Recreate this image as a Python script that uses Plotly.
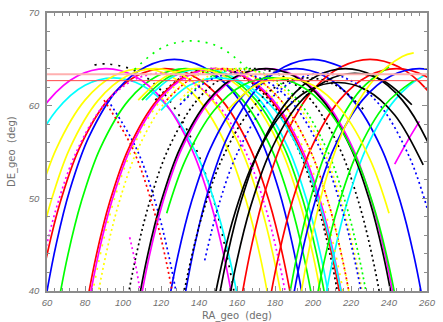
import plotly.graph_objects as go

# ---- track data (RA_geo, DE_geo in degrees) ----
red_ra = [
    [48, 54, 60, 67, 77, 92, 107, 122, 137, 152, 167, 177, 184, 190, 196],
    [74, 80, 86, 93, 103, 118, 133, 148, 163, 178, 193, 203, 210, 216, 222],
    [123, 138, 153, 168, 183, 198, 208, 215, 221, 227],
    [156, 162, 168, 175, 185, 200, 215, 230, 245, 260, 275, 285, 292, 298, 304],
    [170, 176, 182, 189, 199, 214, 229, 244, 259, 274, 289, 299, 306, 312, 318],
    [90, 105, 115, 122, 128, 134],
]
red_de = [
    [29.5, 37.5, 43.9, 49.6, 55.4, 60.6, 63.2, 64.0, 63.2, 60.6, 55.4, 49.6, 43.9, 37.5, 29.5],
    [29.5, 37.5, 43.9, 49.6, 55.4, 60.6, 63.2, 64.0, 63.2, 60.6, 55.4, 49.6, 43.9, 37.5, 29.5],
    [60.6, 63.2, 64.0, 63.2, 60.6, 55.4, 49.6, 43.9, 37.5, 29.5],
    [30.6, 38.8, 45.2, 50.9, 56.6, 61.7, 64.2, 65.0, 64.2, 61.7, 56.6, 50.9, 45.2, 38.8, 30.6],
    [29.5, 37.5, 43.9, 49.6, 55.4, 60.6, 63.2, 64.0, 63.2, 60.6, 55.4, 49.6, 43.9, 37.5, 29.5],
    [60.6, 55.4, 49.6, 43.9, 37.5, 29.5],
]
green_ra = [
    [59, 65, 71, 78, 88, 103, 118, 133, 148, 163, 178, 188, 195, 201, 207],
    [106, 121, 136, 151, 166],
    [110, 125, 140, 155, 170, 185, 195, 202, 208, 214],
    [132, 147, 162, 177, 192, 207, 217, 224, 230, 236],
    [181, 187, 193, 200, 210, 225, 240],
    [194, 200, 206, 213, 223, 238, 253],
    [123, 133, 148, 163, 178, 193, 208, 223, 233, 240, 246, 252],
]
green_de = [
    [29.5, 37.5, 43.9, 49.6, 55.4, 60.6, 63.2, 64.0, 63.2, 60.6, 55.4, 49.6, 43.9, 37.5, 29.5],
    [63.9, 66.3, 67.0, 66.3, 63.9],
    [60.6, 63.2, 64.0, 63.2, 60.6, 55.4, 49.6, 43.9, 37.5, 29.5],
    [60.6, 63.2, 64.0, 63.2, 60.6, 55.4, 49.6, 43.9, 37.5, 29.5],
    [30.6, 38.8, 45.2, 50.9, 56.6, 61.7, 64.2],
    [28.9, 36.9, 43.3, 49.0, 54.8, 60.1, 62.7],
    [48.4, 54.2, 59.5, 62.2, 63.0, 62.2, 59.5, 54.2, 48.4, 42.7, 36.3, 28.4],
]
blue_ra = [
    [92, 107, 117, 124, 130, 136],
    [53, 59, 65, 72, 82, 97, 112, 127, 142, 157, 172, 182, 189, 195, 201],
    [117, 123, 129, 136, 146, 161, 176, 191, 206, 221, 236, 246, 253, 259, 265],
    [126, 132, 138, 145, 155, 170, 185, 200, 215],
    [143, 150, 160, 175, 190, 205, 220, 235, 250, 260, 267, 273, 279],
    [182, 188, 194, 201, 211, 226, 241, 256, 271, 286, 301, 311, 318, 324, 330],
    [130, 145, 160, 175, 190, 205, 215, 222, 228, 234],
]
blue_de = [
    [60.6, 55.4, 49.6, 43.9, 37.5, 29.5],
    [30.6, 38.8, 45.2, 50.9, 56.6, 61.7, 64.2, 65.0, 64.2, 61.7, 56.6, 50.9, 45.2, 38.8, 30.6],
    [29.5, 37.5, 43.9, 49.6, 55.4, 60.6, 63.2, 64.0, 63.2, 60.6, 55.4, 49.6, 43.9, 37.5, 29.5],
    [30.6, 38.8, 45.2, 50.9, 56.6, 61.7, 64.2, 65.0, 64.2],
    [43.3, 49.0, 54.8, 60.1, 62.7, 63.5, 62.7, 60.1, 54.8, 49.0, 43.3, 36.9, 28.9],
    [29.5, 37.5, 43.9, 49.6, 55.4, 60.6, 63.2, 64.0, 63.2, 60.6, 55.4, 49.6, 43.9, 37.5, 29.5],
    [60.1, 62.7, 63.5, 62.7, 60.1, 54.8, 49.0, 43.3, 36.9, 28.9],
]
cyan_ra = [
    [21, 27, 33, 40, 50, 65, 80, 95, 110, 125, 140, 150, 157, 163, 169],
    [112, 127, 142, 157, 172, 187, 197, 204, 210, 216],
    [199, 205, 211, 218, 228, 243, 258, 273, 288, 303, 318, 328, 335, 341, 347],
    [120, 135, 150, 165, 180, 195, 205, 212, 218, 224],
]
cyan_de = [
    [28.4, 36.3, 42.7, 48.4, 54.2, 59.5, 62.2, 63.0, 62.2, 59.5, 54.2, 48.4, 42.7, 36.3, 28.4],
    [60.6, 63.2, 64.0, 63.2, 60.6, 55.4, 49.6, 43.9, 37.5, 29.5],
    [29.5, 37.5, 43.9, 49.6, 55.4, 60.6, 63.2, 64.0, 63.2, 60.6, 55.4, 49.6, 43.9, 37.5, 29.5],
    [59.5, 62.2, 63.0, 62.2, 59.5, 54.2, 48.4, 42.7, 36.3, 28.4],
]
magenta_ra = [
    [17, 23, 29, 36, 46, 61, 76, 91, 106, 121, 136, 146, 153, 159, 165],
    [75, 81, 87, 94, 104, 119, 134, 149, 164, 179, 194, 204, 211, 217, 223],
    [102, 108, 114, 121, 131, 146, 161, 176, 191, 206, 221, 231, 238, 244, 250],
    [243, 249.5, 256],
    [103.5, 106, 109],
    [46, 52, 58, 65, 75, 90, 105, 120, 135, 150, 165, 175, 182, 188, 194],
]
magenta_de = [
    [29.5, 37.5, 43.9, 49.6, 55.4, 60.6, 63.2, 64.0, 63.2, 60.6, 55.4, 49.6, 43.9, 37.5, 29.5],
    [29.5, 37.5, 43.9, 49.6, 55.4, 60.6, 63.2, 64.0, 63.2, 60.6, 55.4, 49.6, 43.9, 37.5, 29.5],
    [29.5, 37.5, 43.9, 49.6, 55.4, 60.6, 63.2, 64.0, 63.2, 60.6, 55.4, 49.6, 43.9, 37.5, 29.5],
    [53.7, 56.1, 58.3],
    [45.8, 43.5, 40.0],
    [28.9, 36.9, 43.3, 49.0, 54.8, 60.1, 62.7, 63.5, 62.7, 60.1, 54.8, 49.0, 43.3, 36.9, 28.9],
]
yellow_ra = [
    [36, 42, 48, 55, 65, 80, 95, 110, 125, 140, 155, 165, 172, 178, 184],
    [43, 49, 55, 62, 72, 87, 102, 117, 132, 147, 162, 172, 179, 185, 191],
    [108, 123, 138, 153, 168, 183, 193, 200, 206, 212],
    [76, 82, 88, 95, 105, 120, 135, 150, 165, 180, 195, 205, 212, 218, 224],
    [79, 85, 91, 98, 108, 123, 138, 153, 168, 183, 198, 208, 215, 221, 227],
    [130, 145, 160, 175, 190, 205, 215, 222, 228, 234],
    [188, 194, 200, 207, 217, 232, 247, 253],
    [155, 170, 185, 200, 215, 230, 240],
]
yellow_de = [
    [29.5, 37.5, 43.9, 49.6, 55.4, 60.6, 63.2, 64.0, 63.2, 60.6, 55.4, 49.6, 43.9, 37.5, 29.5],
    [29.5, 37.5, 43.9, 49.6, 55.4, 60.6, 63.2, 64.0, 63.2, 60.6, 55.4, 49.6, 43.9, 37.5, 29.5],
    [60.6, 63.2, 64.0, 63.2, 60.6, 55.4, 49.6, 43.9, 37.5, 29.5],
    [29.5, 37.5, 43.9, 49.6, 55.4, 60.6, 63.2, 64.0, 63.2, 60.6, 55.4, 49.6, 43.9, 37.5, 29.5],
    [29.5, 37.5, 43.9, 49.6, 55.4, 60.6, 63.2, 64.0, 63.2, 60.6, 55.4, 49.6, 43.9, 37.5, 29.5],
    [60.6, 63.2, 64.0, 63.2, 60.6, 55.4, 49.6, 43.9, 37.5, 29.5],
    [31.8, 40.1, 46.5, 52.2, 57.8, 62.8, 65.3, 65.7],
    [59.5, 62.2, 63.0, 62.2, 59.5, 54.2, 48.4],
]
black_ra = [
    [85, 92, 107, 122, 137, 147, 154, 160, 166],
    [117, 132, 147, 162, 177, 192, 202, 209, 215, 221],
    [95, 101, 107, 114, 124, 139, 154, 169, 184, 199, 214, 224, 231, 237, 243],
    [101, 107, 113, 120, 130, 145, 160, 175, 190, 205, 220, 230, 237, 243, 249],
    [143, 149, 155, 162, 172, 187, 202, 217, 232, 247, 262, 272, 279, 285, 291],
    [139, 145, 151, 158, 168, 183, 198, 213, 228, 243, 258],
    [148, 154, 160, 167, 177, 192, 207, 222, 237, 252],
    [123, 129, 135, 142, 152, 167, 182, 197, 212, 227],
]
black_de = [
    [64.4, 64.5, 63.7, 61.2, 56.0, 50.3, 44.5, 38.1, 30.0],
    [60.6, 63.2, 64.0, 63.2, 60.6, 55.4, 49.6, 43.9, 37.5, 29.5],
    [29.5, 37.5, 43.9, 49.6, 55.4, 60.6, 63.2, 64.0, 63.2, 60.6, 55.4, 49.6, 43.9, 37.5, 29.5],
    [29.5, 37.5, 43.9, 49.6, 55.4, 60.6, 63.2, 64.0, 63.2, 60.6, 55.4, 49.6, 43.9, 37.5, 29.5],
    [29.5, 37.5, 43.9, 49.6, 55.4, 60.6, 63.2, 64.0, 63.2, 60.6, 55.4, 49.6, 43.9, 37.5, 29.5],
    [27.9, 35.7, 42.0, 47.8, 53.6, 59.0, 61.7, 62.5, 61.7, 59.0, 53.6],
    [28.9, 36.9, 43.3, 49.0, 54.8, 60.1, 62.7, 63.5, 62.7, 60.1],
    [28.4, 36.3, 42.7, 48.4, 54.2, 59.5, 62.2, 63.0, 62.2, 59.5],
]
ref_lines_de = [63.4, 62.7]

# ---- styles ----
red_style = ["solid", "solid", "dot", "solid", "solid", "dot"]
green_style = ["solid", "sparse", "solid", "dot", "solid", "solid", "solid"]
blue_style = ["dot", "solid", "solid", "solid", "dot", "solid", "dot"]
cyan_style = ["solid", "solid", "solid", "solid"]
magenta_style = ["solid", "solid", "solid", "solid", "dot", "dot"]
yellow_style = ["solid", "solid", "solid", "sparse", "dot", "dot", "solid", "solid"]
black_style = ["sparse", "dot", "dot", "solid", "solid", "solid", "solid", "dot"]

groups = [
    ("#000000", black_ra, black_de, black_style),
    ("#ff0000", red_ra, red_de, red_style),
    ("#00ff00", green_ra, green_de, green_style),
    ("#0000ff", blue_ra, blue_de, blue_style),
    ("#00ffff", cyan_ra, cyan_de, cyan_style),
    ("#ff00ff", magenta_ra, magenta_de, magenta_style),
    ("#ffff00", yellow_ra, yellow_de, yellow_style),
]
dash_map = {"solid": "solid", "dot": "2px,3px", "sparse": "2px,6px"}

fig = go.Figure()
n_max = max(len(g[1]) for g in groups)
for k in range(n_max):
    for color, ras, des, styles in groups:
        if k < len(ras):
            fig.add_trace(go.Scatter(
                x=ras[k], y=des[k], mode="lines",
                line=dict(color=color, width=1.7, dash=dash_map[styles[k]],
                          shape="spline", smoothing=1.0),
                hoverinfo="skip", showlegend=False))

line_colors = ["#ffb0b0", "#ff4848"]
line_widths = [2, 1]
for val, c, w in zip(ref_lines_de, line_colors, line_widths):
    fig.add_hline(y=val, line=dict(color=c, width=w), layer="above")

axis_col = "#8c8c8c"
tick_font = dict(family="Liberation Sans", size=9.5, color="#707070", style="italic")
common = dict(
    showline=True, linecolor=axis_col, linewidth=1.5, mirror="allticks",
    ticks="inside", ticklen=5, tickwidth=1, tickcolor=axis_col,
    showgrid=False, zeroline=False, tickfont=tick_font,
)
fig.update_xaxes(range=[60, 260], tick0=60, dtick=20,
                 minor=dict(dtick=4, ticks="inside", ticklen=3, tickwidth=1, tickcolor=axis_col),
                 ticklabelstandoff=2, **common)
fig.update_yaxes(range=[40, 70], tick0=40, dtick=10,
                 minor=dict(dtick=2, ticks="inside", ticklen=3, tickwidth=1, tickcolor=axis_col),
                 ticklabelstandoff=4, **common)

title_font = dict(family="DejaVu Sans", size=10, color="#707070")
fig.add_annotation(text="RA_geo  (deg)", xref="paper", yref="paper", x=0.5, y=0,
                   yshift=-25, showarrow=False, font=title_font,
                   xanchor="center", yanchor="middle")
fig.add_annotation(text="DE_geo  (deg)", xref="paper", yref="paper", x=0, y=0.5,
                   xshift=-35, showarrow=False, font=title_font, textangle=-90,
                   xanchor="center", yanchor="middle")

fig.update_layout(width=443, height=322, margin=dict(l=47, r=7, t=11, b=31),
                  paper_bgcolor="white", plot_bgcolor="white", showlegend=False)
fig.write_html("out.html")
